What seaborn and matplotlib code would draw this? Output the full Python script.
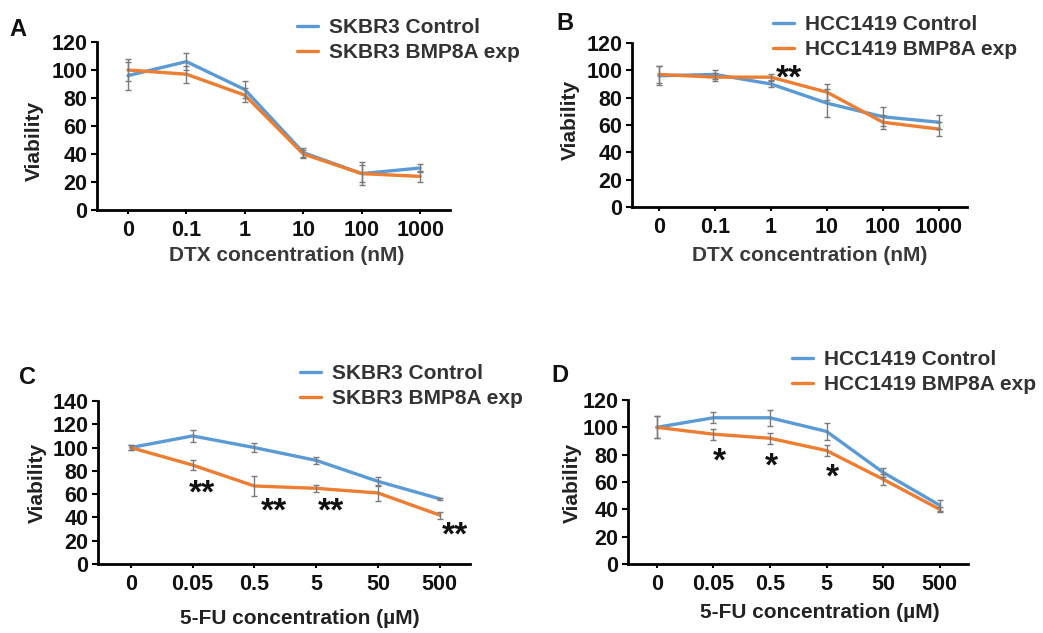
import matplotlib
matplotlib.use("Agg")
import matplotlib.pyplot as plt
import matplotlib.transforms as mtransforms
import numpy as np
import pandas as pd
import seaborn as sns

sns.set_theme(style="white")
plt.rcParams["font.family"] = ["Liberation Sans", "DejaVu Sans"]
plt.rcParams["font.weight"] = "bold"

BLUE = "#5B9BD5"
ORANGE = "#ED7D31"
ERR = "#7a7a7a"

# ---- data -------------------------------------------------------------
dtx_labels = ["0", "0.1", "1", "10", "100", "1000"]
fu_labels = ["0", "0.05", "0.5", "5", "50", "500"]

# A: SKBR3, docetaxel
a_ctrl = [96, 106, 86, 41, 26, 30]
a_ctrl_err = [10, 6, 6, 3, 8, 3]
a_exp = [100, 97, 82, 40, 26, 24]
a_exp_err = [8, 6, 5, 3, 6, 4]

# B: HCC1419, docetaxel
b_ctrl = [96, 97, 90, 76, 66, 62]
b_ctrl_err = [7, 3, 2, 10, 7, 5]
b_exp = [97, 95, 95, 84, 62, 57]
b_exp_err = [6, 3, 2, 6, 5, 5]

# C: SKBR3, 5-FU
c_ctrl = [100, 110, 100, 89, 71, 56]
c_ctrl_err = [2, 5, 4, 3, 4, 1]
c_exp = [100, 85, 67, 65, 61, 42]
c_exp_err = [2, 4, 9, 3, 7, 3]

# D: HCC1419, 5-FU
d_ctrl = [100, 107, 107, 97, 67, 43]
d_ctrl_err = [8, 4, 6, 6, 3, 4]
d_exp = [100, 95, 92, 83, 62, 40]
d_exp_err = [8, 4, 4, 4, 4, 2]

# significance marks: (category position, y, text)
b_marks = [(2.32, 101.5, "**")]
c_marks = [(1.15, 69.5, "**"), (2.32, 54, "**"), (3.24, 54, "**"), (5.24, 33.5, "**")]
d_marks = [(1.10, 82.5, "*"), (2.03, 79, "*"), (3.11, 71, "*")]

W, H = 1043, 633
TICK_FS = 15.5
LABEL_FS = 15
fig = plt.figure(figsize=(W / 100, H / 100), dpi=100)


def px_axes(left, right, bottom, top):
    return fig.add_axes([left / W, 1 - bottom / H, (right - left) / W, (bottom - top) / H])


def panel(ax, labels, ctrl, ctrl_err, exp, exp_err, names, ymax, xlim, marks):
    pos = np.arange(len(labels))
    df = pd.DataFrame({
        "pos": np.concatenate([pos, pos]),
        "val": ctrl + exp,
        "grp": [names[0]] * len(pos) + [names[1]] * len(pos),
    })
    sns.lineplot(data=df, x="pos", y="val", hue="grp", palette=[BLUE, ORANGE],
                 linewidth=2.4, ax=ax, legend=False, zorder=2)
    ax.errorbar(pos, ctrl, yerr=ctrl_err, fmt="none", ecolor=ERR, elinewidth=1.0,
                capsize=2.5, capthick=1.0, zorder=3)
    ax.errorbar(pos, exp, yerr=exp_err, fmt="none", ecolor=ERR, elinewidth=1.0,
                capsize=2.5, capthick=1.0, zorder=3)
    ax.set_xlim(*xlim)
    ax.set_ylim(0, ymax)
    ax.set_yticks(np.arange(0, ymax + 1, 20))
    ax.set_xticks(pos)
    ax.set_xticklabels(labels)
    ax.set_xlabel("")
    ax.set_ylabel("")
    for s in ("top", "right"):
        ax.spines[s].set_visible(False)
    for s in ("left", "bottom"):
        ax.spines[s].set_color("black")
        ax.spines[s].set_linewidth(2.0)
    ax.tick_params(axis="y", length=4, width=1.5, color="black", pad=3,
                   labelsize=TICK_FS, labelcolor="#111111", left=True)
    ax.tick_params(axis="x", length=3, width=1.5, color="black", pad=4,
                   labelsize=TICK_FS, labelcolor="#111111", bottom=True)
    for lab in ax.get_xticklabels() + ax.get_yticklabels():
        lab.set_fontweight("bold")
    for x, y, t in marks:
        tr = mtransforms.offset_copy(ax.transData, fig=fig, x=0, y=-0.58 * 24, units="points")
        ax.text(x, y, t, transform=tr, ha="center", va="baseline",
                fontsize=24, fontweight="bold", color="#111111")
    return ax


def legend(names, x, y):
    handles = [plt.Line2D([], [], color=BLUE, lw=2.4),
               plt.Line2D([], [], color=ORANGE, lw=2.4)]
    fig.legend(handles, names, loc="center left", bbox_to_anchor=(x / W, 1 - y / H),
               frameon=False, handlelength=1.0, handletextpad=0.55,
               labelspacing=0.3, borderpad=0, borderaxespad=0,
               prop={"weight": "bold", "size": LABEL_FS}, labelcolor="#333333")


def fig_text(x, y, s, **kw):
    fig.text(x / W, 1 - y / H, s, ha="center", va="center", **kw)


# A
axA = px_axes(97, 450, 210, 42)
panel(axA, dtx_labels, a_ctrl, a_ctrl_err, a_exp, a_exp_err,
      ["SKBR3 Control", "SKBR3 BMP8A exp"], 120, (-0.53, 5.51), [])
legend(["SKBR3 Control", "SKBR3 BMP8A exp"], 297, 40)
fig_text(287, 255, "DTX concentration (nM)", fontsize=LABEL_FS, fontweight="bold", color="#3a3a3a")
fig_text(34, 141, "Viability", fontsize=LABEL_FS, fontweight="bold", color="#222222", rotation=90)
fig_text(18, 30, "A", fontsize=17, fontweight="bold", color="#111111")

# B
axB = px_axes(632, 967, 207, 43)
panel(axB, dtx_labels, b_ctrl, b_ctrl_err, b_exp, b_exp_err,
      ["HCC1419 Control", "HCC1419 BMP8A exp"], 120, (-0.48, 5.5), b_marks)
legend(["HCC1419 Control", "HCC1419 BMP8A exp"], 773, 37)
fig_text(810, 255, "DTX concentration (nM)", fontsize=LABEL_FS, fontweight="bold", color="#3a3a3a")
fig_text(570, 120, "Viability", fontsize=LABEL_FS, fontweight="bold", color="#222222", rotation=90)
fig_text(565, 23, "B", fontsize=17, fontweight="bold", color="#111111")

# C
axC = px_axes(98, 470, 564, 401)
panel(axC, fu_labels, c_ctrl, c_ctrl_err, c_exp, c_exp_err,
      ["SKBR3 Control", "SKBR3 BMP8A exp"], 140, (-0.53, 5.49), c_marks)
legend(["SKBR3 Control", "SKBR3 BMP8A exp"], 300, 386)
fig_text(300, 618, "5-FU concentration (\u00b5M)", fontsize=LABEL_FS, fontweight="bold", color="#222222")
fig_text(37, 483, "Viability", fontsize=LABEL_FS, fontweight="bold", color="#222222", rotation=90)
fig_text(28, 377, "C", fontsize=17, fontweight="bold", color="#111111")

# D
axD = px_axes(628, 968, 564, 400)
panel(axD, fu_labels, d_ctrl, d_ctrl_err, d_exp, d_exp_err,
      ["HCC1419 Control", "HCC1419 BMP8A exp"], 120, (-0.51, 5.5), d_marks)
legend(["HCC1419 Control", "HCC1419 BMP8A exp"], 792, 372)
fig_text(820, 612, "5-FU concentration (\u00b5M)", fontsize=LABEL_FS, fontweight="bold", color="#222222")
fig_text(572, 483, "Viability", fontsize=LABEL_FS, fontweight="bold", color="#222222", rotation=90)
fig_text(560, 375, "D", fontsize=17, fontweight="bold", color="#111111")

fig.savefig("out.png", dpi=100, facecolor="white")
